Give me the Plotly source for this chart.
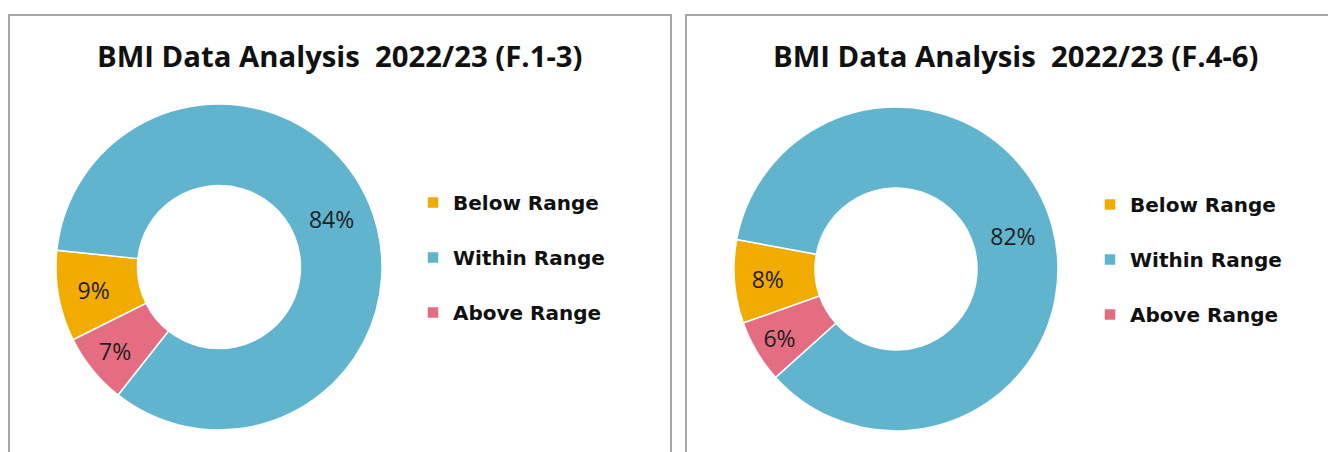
import plotly.graph_objects as go

# page body has an 8px margin: the figure is sized/positioned to compensate
OFF = 8
W, H = 1336 - OFF, 452 - OFF

categories = ["Below Range", "Within Range", "Above Range"]
values_f13 = [9, 84, 7]
values_f46 = [8, 82, 6]
titles = ["BMI Data Analysis  2022/23 (F.1-3)", "BMI Data Analysis  2022/23 (F.4-6)"]
colors = ["#F2AC00", "#61B4CD", "#E56D82"]

FONT = "Open Sans"
LEG_FONT = "DejaVu Sans"


def px_x(v):
    return (v - OFF) / W


def px_y(v):
    return 1 - (v - OFF) / H


fig = go.Figure()

# legend labels padded to two lines to reproduce the generous entry spacing;
# second chart's labels differ by an invisible trailing space so it gets its own legend
labels_left = [c + "<br> " for c in categories]
labels_right = [c + "<br>  " for c in categories]

common_pie = dict(
    sort=False, direction="clockwise", hole=0.5,
    marker=dict(colors=colors, line=dict(color="white", width=1.5)),
    texttemplate="%{value}%", textposition="inside", insidetextorientation="horizontal",
    insidetextfont=dict(family=FONT, size=23, color="#1E1E1E"),
    hoverinfo="skip",
)

fig.add_trace(go.Pie(
    labels=labels_left, values=values_f13, rotation=243.5,
    domain=dict(x=[px_x(56), px_x(382)], y=[px_y(430), px_y(104)]),
    legend="legend", **common_pie,
))
fig.add_trace(go.Pie(
    labels=labels_right, values=values_f46, rotation=250.5,
    domain=dict(x=[px_x(734), px_x(1058)], y=[px_y(431), px_y(107)]),
    legend="legend2", **common_pie,
))

leg_common = dict(font=dict(family=LEG_FONT, size=20, color="#111111", weight="bold"),
                  bgcolor="rgba(0,0,0,0)", valign="top", yanchor="top", xanchor="left",
                  orientation="v")
fig.update_layout(
    width=W, height=H,
    margin=dict(l=0, r=0, t=0, b=0),
    paper_bgcolor="white", plot_bgcolor="white",
    showlegend=True,
    legend=dict(x=px_x(413), y=px_y(183), **leg_common),
    legend2=dict(x=px_x(1090), y=px_y(185), **leg_common),
)

# panel borders
fig.add_shape(type="rect", xref="paper", yref="paper",
              x0=px_x(9), x1=px_x(671), y0=px_y(480), y1=px_y(15),
              line=dict(color="#8C8C8C", width=1.5), fillcolor="rgba(0,0,0,0)", layer="below")
fig.add_shape(type="rect", xref="paper", yref="paper",
              x0=px_x(686), x1=px_x(1360), y0=px_y(480), y1=px_y(15),
              line=dict(color="#8C8C8C", width=1.5), fillcolor="rgba(0,0,0,0)", layer="below")

for t, cx in zip(titles, [340, 1016]):
    fig.add_annotation(text="<b>" + t + "</b>", x=px_x(cx), y=px_y(56), xref="paper", yref="paper",
                       xanchor="center", yanchor="middle", showarrow=False,
                       font=dict(family=FONT, size=29.3, color="#111111"))

fig.write_html("out.html")
